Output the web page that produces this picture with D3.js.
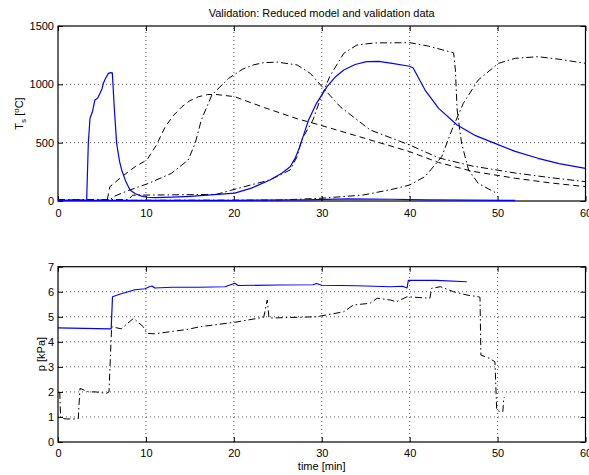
<!DOCTYPE html>
<html>
<head>
<meta charset="utf-8">
<script src="https://cdn.jsdelivr.net/npm/d3@7"></script>
<style>
  html, body { margin: 0; padding: 0; background: #fff; }
  svg { display: block; font-family: "Liberation Sans", Arial, Helvetica, sans-serif; }
  .tick text { font-size: 11px; fill: #000; }
</style>
</head>
<body>
<div id="chart"></div>
<script>
// time axis ticks shared by both plots
const timeTicks = [0, 10, 20, 30, 40, 50, 60];
const tempTicks = [0, 500, 1000, 1500];
const pressTicks = [0, 1, 2, 3, 4, 5, 6, 7];

// upper plot: surface temperature [time min, T degC]
const tempModelMain = [[0,5],[3.1,5],[3.26,8],[3.45,500],[3.64,709],[3.9,760],[4.2,866],[4.5,880],[4.78,923],
  [5.0,960],[5.16,1009],[5.4,1050],[5.73,1094],[6.0,1100],[6.18,1098],[6.4,800],[6.67,494],[7.0,340],[7.24,266],
  [7.7,170],[8.19,94],[8.8,62],[9.5,42],[10.2,32],[11.0,29],[13,33],[15,40],[17,50],[20.1,68],[22,110],
  [24.1,180],[25.5,240],[26.4,294],[27.0,370],[27.5,465],[28.0,580],[28.5,694],[29.4,837],[30.6,980],
  [31.5,1060],[32.5,1123],[33.8,1170],[35.1,1194],[36.5,1196],[38,1180],[40,1155],[40.4,1140],[41.75,951],
  [43.3,794],[45.4,651],[47.5,560],[49.7,494],[52,425],[54.6,366],[57,320],[60,280]];
const tempModelLow = [[0,5],[10,5],[20,6],[28,10],[33,18],[38,15],[42,10],[47,7],[52,6]];
const tempDataP = [[0,8],[5.6,8],[5.9,123],[7.3,210],[8.76,294],[10.1,351],[11.2,480],[12.2,637],[13.1,730],
  [14.1,808],[15,860],[16,894],[17,912],[17.9,914],[20.1,894],[23.5,800],[27.2,705],[29.8,651],[35,535],
  [40,423],[43.3,330],[47.1,255],[52,195],[56,155],[60,123]];
const tempDataQ = [[0,8],[5.9,8],[6.3,37],[8,90],[10.3,151],[12.9,237],[14.8,351],[15.6,494],[16.3,694],
  [17.5,909],[19.4,1051],[21,1130],[22.2,1166],[23.4,1186],[25,1190],[27.2,1166],[28.7,1094],[30.2,966],
  [32.1,808],[35.5,609],[40,480],[43.3,370],[47.1,300],[52,240],[56,200],[60,166]];
const tempDataR = [[0,10],[8,12],[8.5,50],[12,52],[18,57],[19.6,90],[21.9,137],[24.1,180],[26.4,266],
  [27.2,380],[27.7,523],[29.0,694],[29.8,866],[30.9,1066],[32.5,1266],[34,1337],[36,1355],[40,1357],
  [42,1330],[45,1270],[45.2,1123],[45.4,780],[45.9,497],[46.7,266],[47.8,151],[49.9,66],[50,60]];
const tempDataS = [[0,5],[25,8],[29.8,23],[34.7,51],[38,100],[40,137],[41.75,209],[43.65,380],[44.8,609],
  [46.1,837],[47.8,1037],[50.1,1180],[52,1223],[54.6,1237],[57,1215],[60,1180]];

// lower plot: pressure [time min, p kPa]
const pressModel = [[0,4.56],[5.9,4.52],[6.05,4.52],[6.2,5.80],[7,5.9],[8.76,6.08],[9.9,6.12],[10.4,6.2],
  [10.7,6.23],[11.0,6.15],[13,6.18],[16,6.18],[19,6.2],[19.8,6.3],[20.1,6.34],[20.5,6.25],[25,6.27],
  [29,6.28],[29.4,6.33],[30,6.26],[34,6.24],[37.8,6.2],[39.2,6.22],[39.7,6.15],[39.85,6.45],[43,6.45],[46.5,6.40]];
const pressData = [[0.2,2.0],[0.3,0.95],[1,0.92],[2.3,0.92],[2.5,2.14],[3.5,2.0],[4.3,2.0],[5.5,1.94],
  [5.8,2.0],[6.1,4.6],[7.2,4.52],[8.6,4.94],[9.7,4.6],[10.1,4.34],[11,4.32],[14.8,4.5],[16.1,4.6],
  [20.1,4.78],[23.4,4.98],[23.8,5.67],[24,4.95],[29.4,5.0],[32.5,5.2],[33.6,5.47],[35.5,5.54],[36.3,5.74],
  [37.8,5.67],[38.5,5.6],[39.7,5.8],[42.3,5.74],[42.5,6.14],[43.5,6.2],[45,6.0],[46.5,5.87],[47.8,5.8],
  [48.0,5.78],[48.1,3.47],[49.1,3.34],[49.7,3.2],[49.9,1.28],[50.3,1.21],[50.6,1.21],[50.7,1.74],[50.8,1.8]];

const DASH = '6,4';
const DASHDOT = '7,3,1.5,3';

const svg = d3.select('#chart').append('svg').attr('width', 589).attr('height', 475);

const x = d3.scaleLinear().domain([0, 60]).range([58, 585.5]);
const yTop = d3.scaleLinear().domain([0, 1500]).range([201, 26]);
const yBot = d3.scaleLinear().domain([0, 7]).range([442, 266.7]);

function drawAxes(y, yTicks, labelPad) {
  const [x0, x1] = x.range();
  const [yb, yt] = y.range();
  const g = svg.append('g');

  // dotted grid
  g.selectAll('.gx').data(timeTicks.slice(1, -1)).join('line')
    .attr('x1', d => x(d)).attr('x2', d => x(d)).attr('y1', yb).attr('y2', yt)
    .attr('stroke', '#555').attr('stroke-dasharray', '1,3');
  g.selectAll('.gy').data(yTicks.slice(1, -1)).join('line')
    .attr('x1', x0).attr('x2', x1).attr('y1', d => y(d)).attr('y2', d => y(d))
    .attr('stroke', '#555').attr('stroke-dasharray', '1,3');

  const fmt = d => String(d);
  const ax = [
    g.append('g').attr('transform', `translate(0,${yb})`)
      .call(d3.axisBottom(x).tickValues(timeTicks).tickSize(-5).tickPadding(labelPad).tickFormat(fmt)),
    g.append('g').attr('transform', `translate(0,${yt})`)
      .call(d3.axisTop(x).tickValues(timeTicks).tickSize(-5).tickFormat('')),
    g.append('g').attr('transform', `translate(${x0},0)`)
      .call(d3.axisLeft(y).tickValues(yTicks).tickSize(-5).tickPadding(4).tickFormat(fmt)),
    g.append('g').attr('transform', `translate(${x1},0)`)
      .call(d3.axisRight(y).tickValues(yTicks).tickSize(-5).tickFormat(''))
  ];
  ax.forEach(a => {
    a.select('.domain').remove();
    a.selectAll('.tick line').attr('stroke', '#000');
    a.attr('font-family', null).attr('font-size', null);
  });

  g.append('rect')
    .attr('x', x0).attr('y', yt).attr('width', x1 - x0).attr('height', yb - yt)
    .attr('fill', 'none').attr('stroke', '#000').attr('stroke-width', 1.2);
}

function drawLine(data, y, color, dash, width) {
  const line = d3.line().x(d => x(d[0])).y(d => y(d[1]));
  svg.append('path').datum(data)
    .attr('fill', 'none')
    .attr('stroke', color)
    .attr('stroke-width', width)
    .attr('stroke-dasharray', dash)
    .attr('stroke-linejoin', 'round')
    .attr('d', line);
}

// upper plot
drawAxes(yTop, tempTicks, 8);
drawLine(tempDataP, yTop, '#000', DASH, 1);
drawLine(tempDataQ, yTop, '#000', DASHDOT, 1);
drawLine(tempDataR, yTop, '#000', DASHDOT, 1);
drawLine(tempDataS, yTop, '#000', DASHDOT, 1);
drawLine(tempModelLow, yTop, '#0000ff', null, 1.2);
drawLine(tempModelMain, yTop, '#0000ff', null, 1.2);

// lower plot
drawAxes(yBot, pressTicks, 7.5);
drawLine(pressData, yBot, '#000', DASHDOT, 1);
drawLine(pressModel, yBot, '#0000ff', null, 1.2);

// texts
svg.append('text').attr('x', 321.7).attr('y', 17).attr('text-anchor', 'middle')
  .attr('font-size', 11).text('Validation: Reduced model and validation data');

const tl = svg.append('text').attr('transform', 'translate(23,113.5) rotate(-90)')
  .attr('text-anchor', 'middle').attr('font-size', 11);
tl.append('tspan').text('T');
tl.append('tspan').attr('font-size', 8).attr('dy', 3).text('s');
tl.append('tspan').attr('dy', -3).text(' [');
tl.append('tspan').attr('font-size', 8).attr('dy', -4).text('o');
tl.append('tspan').attr('dy', 4).text('C]');

svg.append('text').attr('transform', 'translate(45,354) rotate(-90)')
  .attr('text-anchor', 'middle').attr('font-size', 11).text('p [kPa]');

svg.append('text').attr('x', 321.7).attr('y', 470).attr('text-anchor', 'middle')
  .attr('font-size', 11).text('time [min]');
</script>
</body>
</html>
